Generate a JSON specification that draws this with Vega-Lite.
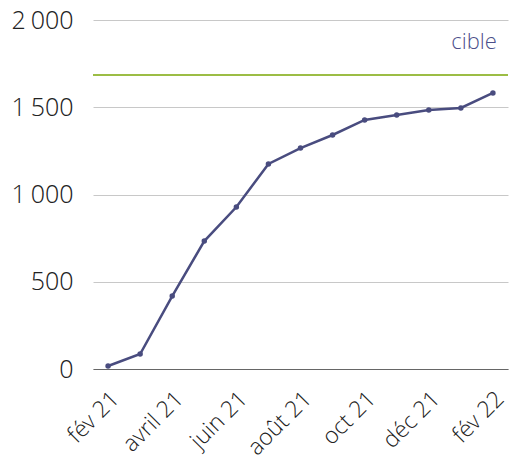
{
  "$schema": "https://vega.github.io/schema/vega-lite/v6.json",
  "width": 415,
  "height": 349,
  "autosize": {"type": "none"},
  "padding": {"left": 93, "top": 20, "right": 2, "bottom": 98},
  "background": "white",
  "config": {
    "view": {"stroke": null},
    "font": "'Open Sans Light', 'Open Sans'"
  },
  "datasets": {
    "serie": [
      {"mois": "fév 21", "valeur": 17},
      {"mois": "mars 21", "valeur": 86},
      {"mois": "avril 21", "valeur": 418},
      {"mois": "mai 21", "valeur": 733},
      {"mois": "juin 21", "valeur": 928},
      {"mois": "juil 21", "valeur": 1175},
      {"mois": "août 21", "valeur": 1266},
      {"mois": "sept 21", "valeur": 1341},
      {"mois": "oct 21", "valeur": 1427},
      {"mois": "nov 21", "valeur": 1455},
      {"mois": "déc 21", "valeur": 1484},
      {"mois": "jan 22", "valeur": 1496},
      {"mois": "fév 22", "valeur": 1582}
    ],
    "cible": [{"mois": "fév 22", "valeur": 1685, "label": "cible", "ypos": 1874}]
  },
  "layer": [
    {
      "data": {"name": "serie"},
      "mark": {"type": "line", "color": "#494c7f", "strokeWidth": 2.5, "point": {"filled": true, "size": 30, "color": "#494c7f"}},
      "encoding": {
        "x": {
          "field": "mois", "type": "ordinal",
          "sort": ["fév 21", "mars 21", "avril 21", "mai 21", "juin 21", "juil 21", "août 21", "sept 21", "oct 21", "nov 21", "déc 21", "jan 22", "fév 22"],
          "scale": {"type": "point", "padding": 0.47},
          "axis": {
            "title": null,
            "values": ["fév 21", "avril 21", "juin 21", "août 21", "oct 21", "déc 21", "fév 22"],
            "labelAngle": -45, "labelAlign": "right", "labelBaseline": "middle",
            "labelFontSize": 23, "labelFontWeight": 300, "labelColor": "#222222",
            "labelPadding": 26, "labelOffset": 7, "ticks": false, "domainColor": "#666666", "domainWidth": 1.2,
            "grid": false
          }
        },
        "y": {
          "field": "valeur", "type": "quantitative",
          "scale": {"domain": [0, 2000], "nice": false},
          "axis": {
            "title": null, "values": [0, 500, 1000, 1500, 2000],
            "format": ",d", "labelExpr": "replace(datum.label, ',', '\u2009')",
            "labelFontSize": 25, "labelFontWeight": 300, "labelColor": "#222222",
            "labelPadding": 20, "ticks": false, "domain": false,
            "gridColor": "#c8c8c8", "gridWidth": 1
          }
        }
      }
    },
    {
      "data": {"name": "cible"},
      "mark": {"type": "rule", "color": "#9cbd45", "strokeWidth": 2},
      "encoding": {"y": {"field": "valeur", "type": "quantitative"}}
    },
    {
      "data": {"name": "cible"},
      "mark": {"type": "text", "align": "right", "baseline": "middle", "color": "#4b4f8a", "fontSize": 22, "fontWeight": 300, "dx": 4},
      "encoding": {
        "x": {
          "field": "mois", "type": "ordinal",
          "sort": ["fév 21", "mars 21", "avril 21", "mai 21", "juin 21", "juil 21", "août 21", "sept 21", "oct 21", "nov 21", "déc 21", "jan 22", "fév 22"]
        },
        "y": {"field": "ypos", "type": "quantitative"},
        "text": {"field": "label"}
      }
    }
  ]
}
